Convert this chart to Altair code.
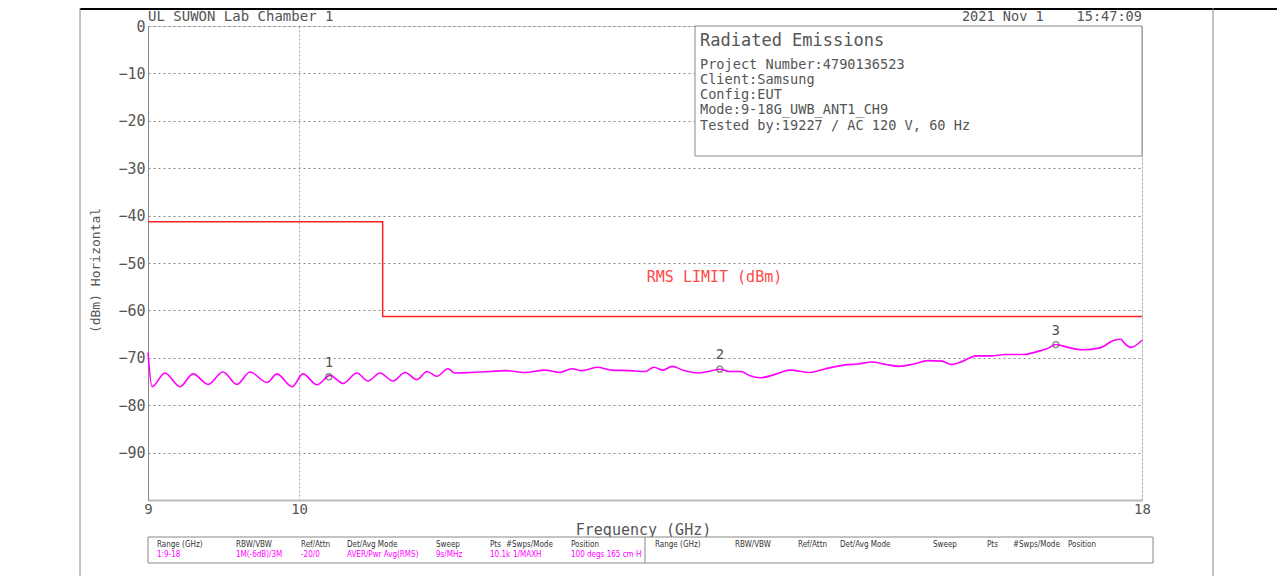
import altair as alt
import pandas as pd

# ---------------- data ----------------
TRACE_FREQ_GHZ = [9.000, 9.025, 9.107, 9.203, 9.287, 9.385, 9.483, 9.576, 9.663, 9.779,
                  9.847, 9.951, 10.027, 10.126, 10.218, 10.311, 10.412, 10.492, 10.580, 10.677,
                  10.767, 10.857, 10.933, 11.009, 11.094, 11.148, 11.266, 11.424, 11.544, 11.706,
                  11.871, 11.995, 12.096, 12.181, 12.309, 12.438, 12.595, 12.728, 12.808, 12.889,
                  12.970, 13.079, 13.207, 13.300, 13.411, 13.496, 13.609, 13.695, 13.800, 13.936,
                  14.082, 14.280, 14.420, 14.633, 14.766, 14.911, 15.057, 15.194, 15.354, 15.505,
                  15.657, 15.755, 15.888, 16.032, 16.201, 16.360, 16.578, 16.729, 16.846, 16.952,
                  17.095, 17.262, 17.480, 17.652, 17.738, 17.775, 17.862, 18.000]
TRACE_DBM = [-68.9, -76.1, -73.2, -76.1, -73.4, -75.6, -73.0, -75.6, -73.0, -75.2,
             -73.4, -76.1, -73.4, -75.7, -73.7, -75.4, -73.2, -74.9, -73.2, -74.9,
             -73.1, -74.6, -72.9, -73.9, -72.3, -73.2, -73.1, -72.9, -72.7, -73.1,
             -72.6, -73.1, -72.3, -72.7, -72.0, -72.6, -72.7, -72.9, -72.0, -72.6,
             -71.8, -72.7, -73.2, -72.9, -72.4, -72.9, -72.9, -73.8, -74.2, -73.5,
             -72.6, -73.1, -72.4, -71.5, -71.3, -70.9, -71.4, -71.8, -71.3, -70.6,
             -70.7, -71.4, -70.7, -69.6, -69.6, -69.3, -69.3, -68.7, -68.1, -67.2,
             -67.8, -68.3, -67.9, -66.3, -66.1, -66.8, -67.8, -66.3]

LIMIT_FREQ_GHZ = [9.0, 10.6, 10.6, 18.0]
LIMIT_DBM = [-41.3, -41.3, -61.3, -61.3]
LIMIT_LABEL = "RMS LIMIT (dBm)"
LIMIT_LABEL_AT = (13.36, -53.0)

MARKER_LABELS = ["1", "2", "3"]
MARKER_FREQ_GHZ = [10.21, 13.41, 16.95]
MARKER_DBM = [-74.0, -72.4, -67.2]

X_TICKS = [9, 10, 18]
Y_TICKS = [0, -10, -20, -30, -40, -50, -60, -70, -80, -90]
X_TITLE = "Frequency (GHz)"
Y_TITLE = "(dBm) Horizontal"

HEADER_LEFT = "UL SUWON Lab Chamber 1"
HEADER_RIGHT = "2021 Nov 1    15:47:09"
INFO_TITLE = "Radiated Emissions"
INFO_LINES = ["Project Number:4790136523", "Client:Samsung", "Config:EUT",
              "Mode:9-18G_UWB_ANT1_CH9", "Tested by:19227 / AC 120 V, 60 Hz"]

TABLE_HEADERS = ["Range (GHz)", "RBW/VBW", "Ref/Attn", "Det/Avg Mode", "Sweep", "Pts",
                 "#Swps/Mode", "Position"]
TABLE_VALUES = ["1:9-18", "1M(-6dB)/3M", "-20/0", "AVER/Pwr Avg(RMS)", "9s/MHz", "10.1k",
                "1/MAXH", "100 degs 165 cm H"]

# ---------------- layout ----------------
W, H = 994, 474
FONT = "DejaVu Sans Mono"
SMALL_FONT = "DejaVu Sans Condensed"
TXT = "#555555"

trace_df = pd.DataFrame({"freq": TRACE_FREQ_GHZ, "dbm": TRACE_DBM})
limit_df = pd.DataFrame({"freq": LIMIT_FREQ_GHZ, "dbm": LIMIT_DBM, "i": range(len(LIMIT_DBM))})
marker_df = pd.DataFrame({"freq": MARKER_FREQ_GHZ, "dbm": MARKER_DBM, "label": MARKER_LABELS})
ONE = pd.DataFrame({"k": [0]})

xscale = alt.Scale(type="log", domain=[9, 18], nice=False)
yscale = alt.Scale(domain=[-100, 0], nice=False)

xaxis = alt.Axis(values=X_TICKS, format="~g", title=X_TITLE, ticks=False, labelFlush=False,
                 labelFont=FONT, labelFontSize=14, labelColor=TXT, labelPadding=2,
                 titleFont=FONT, titleFontSize=15, titleFontWeight="normal", titleColor=TXT,
                 titleX=495, titleY=29, titleBaseline="middle",
                 domainColor="#bbbbbb", domainWidth=2,
                 grid=True, gridColor="#aaaaaa", gridDash=[2, 2], gridWidth=1)
yaxis = alt.Axis(values=Y_TICKS, title=Y_TITLE, ticks=False,
                 labelFont=FONT, labelFontSize=15, labelColor=TXT, labelPadding=3,
                 titleFont=FONT, titleFontSize=13, titleFontWeight="normal", titleColor=TXT,
                 titleX=-53, titleY=244, titleAngle=270, titleAlign="center",
                 titleBaseline="middle",
                 domainColor="#888888", domainWidth=1,
                 grid=True, gridColor="#888888", gridDash=[2, 3], gridWidth=1)

trace = alt.Chart(trace_df).mark_line(color="#ff00ff", strokeWidth=1.6, interpolate="monotone").encode(
    x=alt.X("freq:Q", scale=xscale, axis=xaxis),
    y=alt.Y("dbm:Q", scale=yscale, axis=yaxis),
)

limit = alt.Chart(limit_df).mark_line(color="#ff2020", strokeWidth=1.5).encode(
    x=alt.X("freq:Q", scale=xscale), y=alt.Y("dbm:Q", scale=yscale), order="i:Q")

limit_text = alt.Chart(ONE).mark_text(font=FONT, fontSize=15, color="#ff4848").encode(
    x=alt.X("fx:Q", scale=xscale),
    y=alt.Y("fy:Q", scale=yscale), text=alt.value(LIMIT_LABEL)
).transform_calculate(fx=str(LIMIT_LABEL_AT[0]), fy=str(LIMIT_LABEL_AT[1]))

markers = alt.Chart(marker_df).mark_point(shape="circle", size=36, filled=False, color="#555555",
                                          strokeWidth=1.3).encode(
    x=alt.X("freq:Q", scale=xscale), y=alt.Y("dbm:Q", scale=yscale))
marker_text = alt.Chart(marker_df).mark_text(font=FONT, fontSize=14, color=TXT, dy=-14).encode(
    x=alt.X("freq:Q", scale=xscale), y=alt.Y("dbm:Q", scale=yscale), text="label:N")


def rule(x1, x2, y1, y2, color, width=1):
    return alt.Chart(ONE).mark_rule(color=color, strokeWidth=width).encode(
        x=alt.value(x1), x2=alt.value(x2), y=alt.value(y1), y2=alt.value(y2))


def box(x1, x2, y1, y2, stroke="#888888"):
    return alt.Chart(ONE).mark_rect(fill="white", stroke=stroke, strokeWidth=1).encode(
        x=alt.value(x1), x2=alt.value(x2), y=alt.value(y1), y2=alt.value(y2))


def label(x, y, text, size=14, color=TXT, align="left", font=FONT):
    # keep runs of spaces visible in SVG
    text = text.replace("  ", "\u00a0\u00a0")
    return alt.Chart(ONE).mark_text(font=font, fontSize=size, color=color, align=align,
                                    baseline="middle").encode(
        x=alt.value(x), y=alt.value(y), text=alt.value(text))


deco = [
    # page frame
    rule(-68, 1129, -17, -17, "#000000", 2),
    rule(-68, -68, -18, 550, "#888888", 1),
    rule(1065, 1065, -18, 550, "#888888", 1),
    # header texts
    label(0, -9, HEADER_LEFT, 14),
    label(994, -9, HEADER_RIGHT, 13.6, align="right"),
    # info box
    box(547, 994, 0, 130),
    label(552, 15, INFO_TITLE, 17),
]
for i, line in enumerate(INFO_LINES):
    deco.append(label(552, 38.5 + 15.3 * i, line, 13.6))

# bottom settings table
deco.append(box(0, 1005, 511, 537))
deco.append(rule(497, 497, 511, 537, "#888888", 1))
left_x = [9, 88, 153, 199, 288, 342, 358, 423]
val_x = [9, 88, 153, 199, 288, 342, 365, 423]
right_x = [507, 587, 650, 692, 785, 839, 865, 920]
for hx, vx, rx, head, val in zip(left_x, val_x, right_x, TABLE_HEADERS, TABLE_VALUES):
    deco.append(label(hx, 519, head, 8, "#333333", font=SMALL_FONT))
    deco.append(label(vx, 529, val, 8, "#ff00ff", font=SMALL_FONT))
    deco.append(label(rx, 519, head, 8, "#333333", font=SMALL_FONT))

chart = alt.layer(trace, limit, limit_text, markers, marker_text, *deco).properties(
    width=W, height=H,
    padding={"left": 140, "top": 18, "right": 135, "bottom": 76},
    autosize=alt.AutoSizeParams(type="none"),
).configure_view(stroke="#888888", strokeWidth=1).configure(background="white")

chart.save("out.html", embed_options={"renderer": "svg", "actions": False})
